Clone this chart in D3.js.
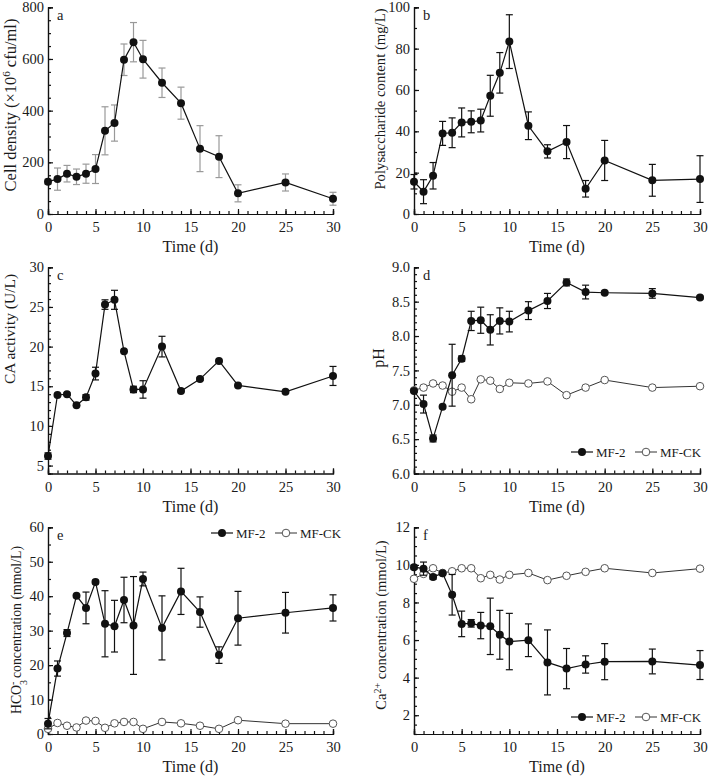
<!DOCTYPE html>
<html><head><meta charset="utf-8">
<script src="https://cdn.jsdelivr.net/npm/d3@7"></script>
<style>body{margin:0;background:#fff}svg{display:block}svg text{font-family:"Liberation Serif",serif;fill:#1a1a1a}</style>
</head><body><svg id="c" width="709" height="780" font-family="Liberation Serif"></svg>
<script>
const days = [0,1,2,3,4,5,6,7,8,9,10,12,14,16,18,20,25,30];
const xTicks = [0,5,10,15,20,25,30];

const cellDensity = [125,135,156,144,156,174,322,352,597,665,599,508,429,253,222,80,122,59];
const cellDensityErr = [10,43,32,30,37,56,93,70,61,76,73,57,62,89,81,33,33,25];

const polysaccharide = [15.6,10.8,18.5,39,39.3,44.3,44.6,45.2,57.2,68.3,83.4,42.7,30.3,34.8,12.2,25.9,16.3,16.9];
const polysaccharideErr = [3.5,5.8,6.4,5.8,7.2,7,5.3,5.5,9.9,9.8,13,6.7,3.2,8,4,9.7,7.7,11.3];

const caActivity = [6.2,13.9,14.0,12.6,13.6,16.6,25.3,25.9,19.4,14.6,14.6,20.0,14.4,15.9,18.2,15.1,14.3,16.3];
const caActivityErr = [0.4,0,0.15,0,0.35,0.8,0.6,1.2,0,0.4,1.1,1.3,0,0.15,0,0,0,1.2];

const phMF2 = [7.2,7.01,6.51,6.97,7.43,7.67,8.22,8.23,8.09,8.22,8.21,8.37,8.51,8.78,8.64,8.63,8.62,8.56];
const phMF2Err = [0,0.13,0.05,0,0.45,0.04,0.14,0.19,0.22,0.19,0.15,0.13,0.11,0.05,0.1,0.02,0.07,0.02];
const phCK = [7.21,7.25,7.31,7.28,7.19,7.25,7.08,7.37,7.35,7.23,7.32,7.31,7.34,7.14,7.25,7.36,7.25,7.27];

const hco3MF2 = [3.0,19.0,29.3,40.1,36.6,44.1,32,31.3,38.9,31.5,45,30.8,41.4,35.4,22.9,33.6,35.2,36.6];
const hco3MF2Err = [1.5,2.2,1,0.4,4.6,0.5,9.6,7.5,6.6,14.2,2,9.3,6.7,4.4,2.4,7.8,5.9,3.8];
const hco3CK = [1.5,3.2,2.4,1.9,3.9,3.8,1.8,3.1,3.5,3.5,1.5,3.5,3.1,2.4,1.5,4.0,3.0,3.0];

const caMF2 = [9.88,9.8,9.36,9.55,8.41,6.86,6.89,6.77,6.73,6.28,5.92,5.99,4.81,4.48,4.7,4.85,4.86,4.67];
const caMF2Err = [0.1,0.35,0.12,0,1.08,0.68,0.2,0.7,1.5,1.3,1.5,0.87,1.73,1.07,0.46,0.96,0.66,0.77];
const caCK = [9.26,9.52,9.82,9.57,9.66,9.82,9.82,9.29,9.47,9.22,9.47,9.57,9.19,9.42,9.63,9.82,9.57,9.8];

const legendLabels = ["MF-2","MF-CK"];

const FONT = "Liberation Serif";
const svg = d3.select("#c");
const colL = [48,333], colR = [414,700];
const rows = [[7.3,214],[267.3,473.5],[527.3,734]];

function styleAxis(a){
  a.attr("font-family",FONT);
  a.select(".domain").attr("stroke","#111").attr("stroke-width",1.2);
  a.selectAll("line").attr("stroke","#111").attr("stroke-width",1.2);
  a.selectAll("text").attr("font-size",14.5).attr("font-family",FONT).attr("fill","#1a1a1a");
}

function panel(opt){
  const g = svg.append("g").attr("font-family",FONT);
  const x = d3.scaleLinear().domain([0,30]).range(opt.xr);
  const y = d3.scaleLinear().domain(opt.yd).range([opt.yr[1],opt.yr[0]]);
  const xa = g.append("g").attr("transform",`translate(0,${opt.yr[1]})`);
  xa.call(d3.axisBottom(x).tickValues(d3.range(0,31,1)).tickSize(-3).tickFormat(""));
  const xb = g.append("g").attr("transform",`translate(0,${opt.yr[1]})`);
  xb.call(d3.axisBottom(x).tickValues(xTicks).tickSize(-5).tickPadding(8).tickFormat(d3.format("d")));
  styleAxis(xa); styleAxis(xb);
  const minor = d3.range(opt.yd[0],opt.yd[1]+1e-9,opt.minor);
  const ya = g.append("g").attr("transform",`translate(${opt.xr[0]},0)`);
  ya.call(d3.axisLeft(y).tickValues(minor).tickSize(-3).tickFormat(""));
  const yb = g.append("g").attr("transform",`translate(${opt.xr[0]},0)`);
  yb.call(d3.axisLeft(y).tickValues(opt.yt).tickSize(-5).tickPadding(4).tickFormat(opt.fmt));
  styleAxis(ya); styleAxis(yb);
  g.append("text").attr("x",opt.xr[0]+9).attr("y",opt.yr[0]+13).attr("font-size",14.5).text(opt.letter);
  g.append("text").attr("x",(opt.xr[0]+opt.xr[1])/2).attr("y",opt.yr[1]+38).attr("text-anchor","middle").attr("font-size",16).text("Time (d)");
  const yt = g.append("text").attr("transform",`translate(${opt.tx},${opt.ty}) rotate(-90)`).attr("text-anchor","middle").attr("font-size",opt.tfs);
  opt.title(yt);
  const line = d3.line().x((d,i)=>x(days[i])).y(d=>y(d));
  if(opt.ck){
    g.append("path").datum(opt.ck).attr("d",line).attr("fill","none").attr("stroke","#333").attr("stroke-width",1);
    g.selectAll(null).data(opt.ck).join("circle").attr("cx",(d,i)=>x(days[i])).attr("cy",d=>y(d)).attr("r",3.8).attr("fill","#fff").attr("stroke","#555").attr("stroke-width",1);
  }
  if(opt.err){
    const eg = g.append("g").attr("stroke",opt.errColor||"#111").attr("stroke-width",1.2);
    opt.err.forEach((e,i)=>{
      if(!e) return;
      const cx=x(days[i]), y1=y(opt.vals[i]+e), y2=y(opt.vals[i]-e);
      eg.append("line").attr("x1",cx).attr("x2",cx).attr("y1",y1).attr("y2",y2);
      eg.append("line").attr("x1",cx-3.5).attr("x2",cx+3.5).attr("y1",y1).attr("y2",y1);
      eg.append("line").attr("x1",cx-3.5).attr("x2",cx+3.5).attr("y1",y2).attr("y2",y2);
    });
  }
  g.append("path").datum(opt.vals).attr("d",line).attr("fill","none").attr("stroke","#111").attr("stroke-width",1.2);
  g.selectAll(null).data(opt.vals).join("circle").attr("cx",(d,i)=>x(days[i])).attr("cy",d=>y(d)).attr("r",4).attr("fill","#111");
  if(opt.legend){
    const [lx,ly] = opt.legend;
    const lg = g.append("g").attr("transform",`translate(${lx},${ly})`);
    lg.append("line").attr("x1",0).attr("x2",22).attr("stroke","#111").attr("stroke-width",1.2);
    lg.append("circle").attr("cx",11).attr("r",4).attr("fill","#111");
    lg.append("text").attr("x",25).attr("y",4.5).attr("font-size",13).text(legendLabels[0]);
    lg.append("line").attr("x1",64).attr("x2",86).attr("stroke","#333").attr("stroke-width",1);
    lg.append("circle").attr("cx",75).attr("r",3.8).attr("fill","#fff").attr("stroke","#555");
    lg.append("text").attr("x",89).attr("y",4.5).attr("font-size",13).text(legendLabels[1]);
  }
}

panel({xr:colL,yr:rows[0],yd:[0,800],yt:[0,200,400,600,800],minor:50,fmt:d3.format("d"),letter:"a",tx:16,ty:105,tfs:16.5,
  title:t=>{t.append("tspan").text("Cell density (×10");t.append("tspan").attr("baseline-shift","super").attr("font-size",11).text("6");t.append("tspan").text(" cfu/ml)");},
  vals:cellDensity,err:cellDensityErr,errColor:"#999"});
panel({xr:colR,yr:rows[0],yd:[0,100],yt:[0,20,40,60,80,100],minor:10,fmt:d3.format("d"),letter:"b",tx:385,ty:99,tfs:14.7,
  title:t=>t.text("Polysaccharide content (mg/L)"),vals:polysaccharide,err:polysaccharideErr});
panel({xr:colL,yr:rows[1],yd:[4,30],yt:[5,10,15,20,25,30],minor:1,fmt:d3.format("d"),letter:"c",tx:15,ty:329,tfs:15.5,
  title:t=>t.text("CA activity (U/L)"),vals:caActivity,err:caActivityErr});
panel({xr:colR,yr:rows[1],yd:[6,9],yt:[6,6.5,7,7.5,8,8.5,9],minor:0.1,fmt:d3.format(".1f"),letter:"d",tx:384,ty:358,tfs:16,
  title:t=>t.text("pH"),vals:phMF2,err:phMF2Err,ck:phCK,legend:[571,452]});
panel({xr:colL,yr:rows[2],yd:[0,60],yt:[0,10,20,30,40,50,60],minor:5,fmt:d3.format("d"),letter:"e",tx:21,ty:630,tfs:13.8,
  title:t=>{t.append("tspan").text("HCO");t.append("tspan").attr("baseline-shift","sub").attr("font-size",10).text("3");t.append("tspan").attr("baseline-shift","super").attr("font-size",10).attr("dx",-5).text("-");t.append("tspan").text(" concentration (mmol/L)");},
  vals:hco3MF2,err:hco3MF2Err,ck:hco3CK,legend:[211,533]});
panel({xr:colR,yr:rows[2],yd:[1,12],yt:[2,4,6,8,10,12],minor:0.5,fmt:d3.format("d"),letter:"f",tx:386,ty:625,tfs:14.5,
  title:t=>{t.append("tspan").text("Ca");t.append("tspan").attr("baseline-shift","super").attr("font-size",10).text("2+");t.append("tspan").text(" concentration (mmol/L)");},
  vals:caMF2,err:caMF2Err,ck:caCK,legend:[571,717]});
</script></body></html>
